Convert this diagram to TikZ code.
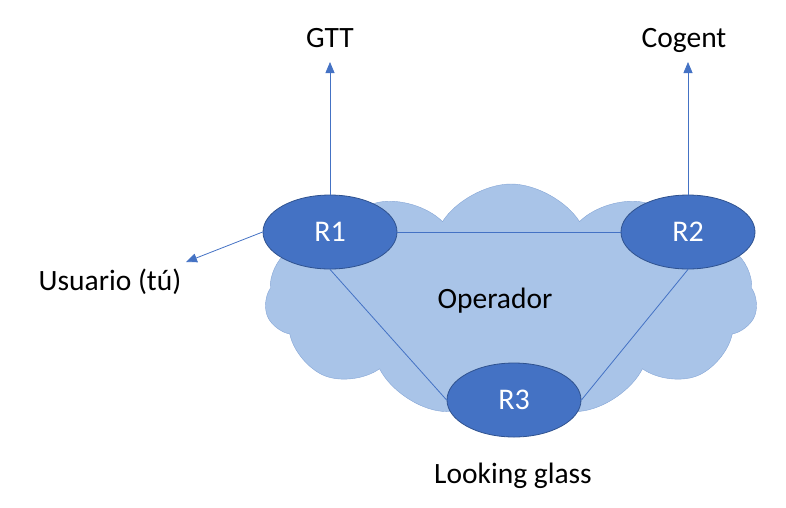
\documentclass[tikz,border=0pt]{standalone}
\usepackage{fontspec}
\setmainfont{Carlito}
\usepackage{xcolor}
\usetikzlibrary{positioning}
\usetikzlibrary{arrows.meta,shapes.geometric,shapes.symbols}
\definecolor{nube}{HTML}{A9C4E8}
\definecolor{nubeborde}{HTML}{86A6D6}
\definecolor{azul}{HTML}{4472C4}
\definecolor{azulborde}{HTML}{2F528F}

\begin{document}
\begin{tikzpicture}[x=1pt,y=-1pt,
	router/.style={ellipse,draw=azulborde,fill=azul,thick,minimum width=134,minimum height=74,inner sep=0,text=white,font=\fontsize{30}{34}\selectfont},
	etiqueta/.style={anchor=base,font=\fontsize{29.5}{34}\selectfont},
	link/.style={draw=azul,line width=0.8pt},
	flecha/.style={link,-{Triangle[length=11pt,width=9pt]}}]
	\useasboundingbox (0,0) rectangle (786,507);
	% la nube del operador
	\node[cloud,cloud puffs=11,cloud puff arc=115,aspect=2.1,draw=nubeborde,fill=nube,minimum width=492,minimum height=232,inner sep=0] (nube) at (511,300) {};
	\node[etiqueta] (operador) at (495,308) {Operador};
	% routers
	\node[router] (r1) at (330,232) {R1};
	\node[router] (r2) at (688,232) {R2};
	\node[router] (r3) at (514,400) {R3};
	\draw[link] (r1) -- (r2);
	\draw[link] (r1.south) -- (r3.west);
	\draw[link] (r2.south) -- (r3.east);
	% salidas
	\coordinate (pgtt) at (330,62);
	\coordinate (pcogent) at (688,62);
	\coordinate (pusuario) at (186,262);
	\draw[flecha] (r1.north) -- (pgtt);
	\draw[flecha] (r2.north) -- (pcogent);
	\draw[flecha] (r1.west) -- (pusuario);
	\node[etiqueta] (gtt) at (330,47) {GTT};
	\node[etiqueta] (cogent) at (684,47) {Cogent};
	\node[etiqueta] (usuario) at (110,290) {Usuario (tú)};
	\node[etiqueta] (glass) at (513,483) {Looking glass};
\end{tikzpicture}
\end{document}
